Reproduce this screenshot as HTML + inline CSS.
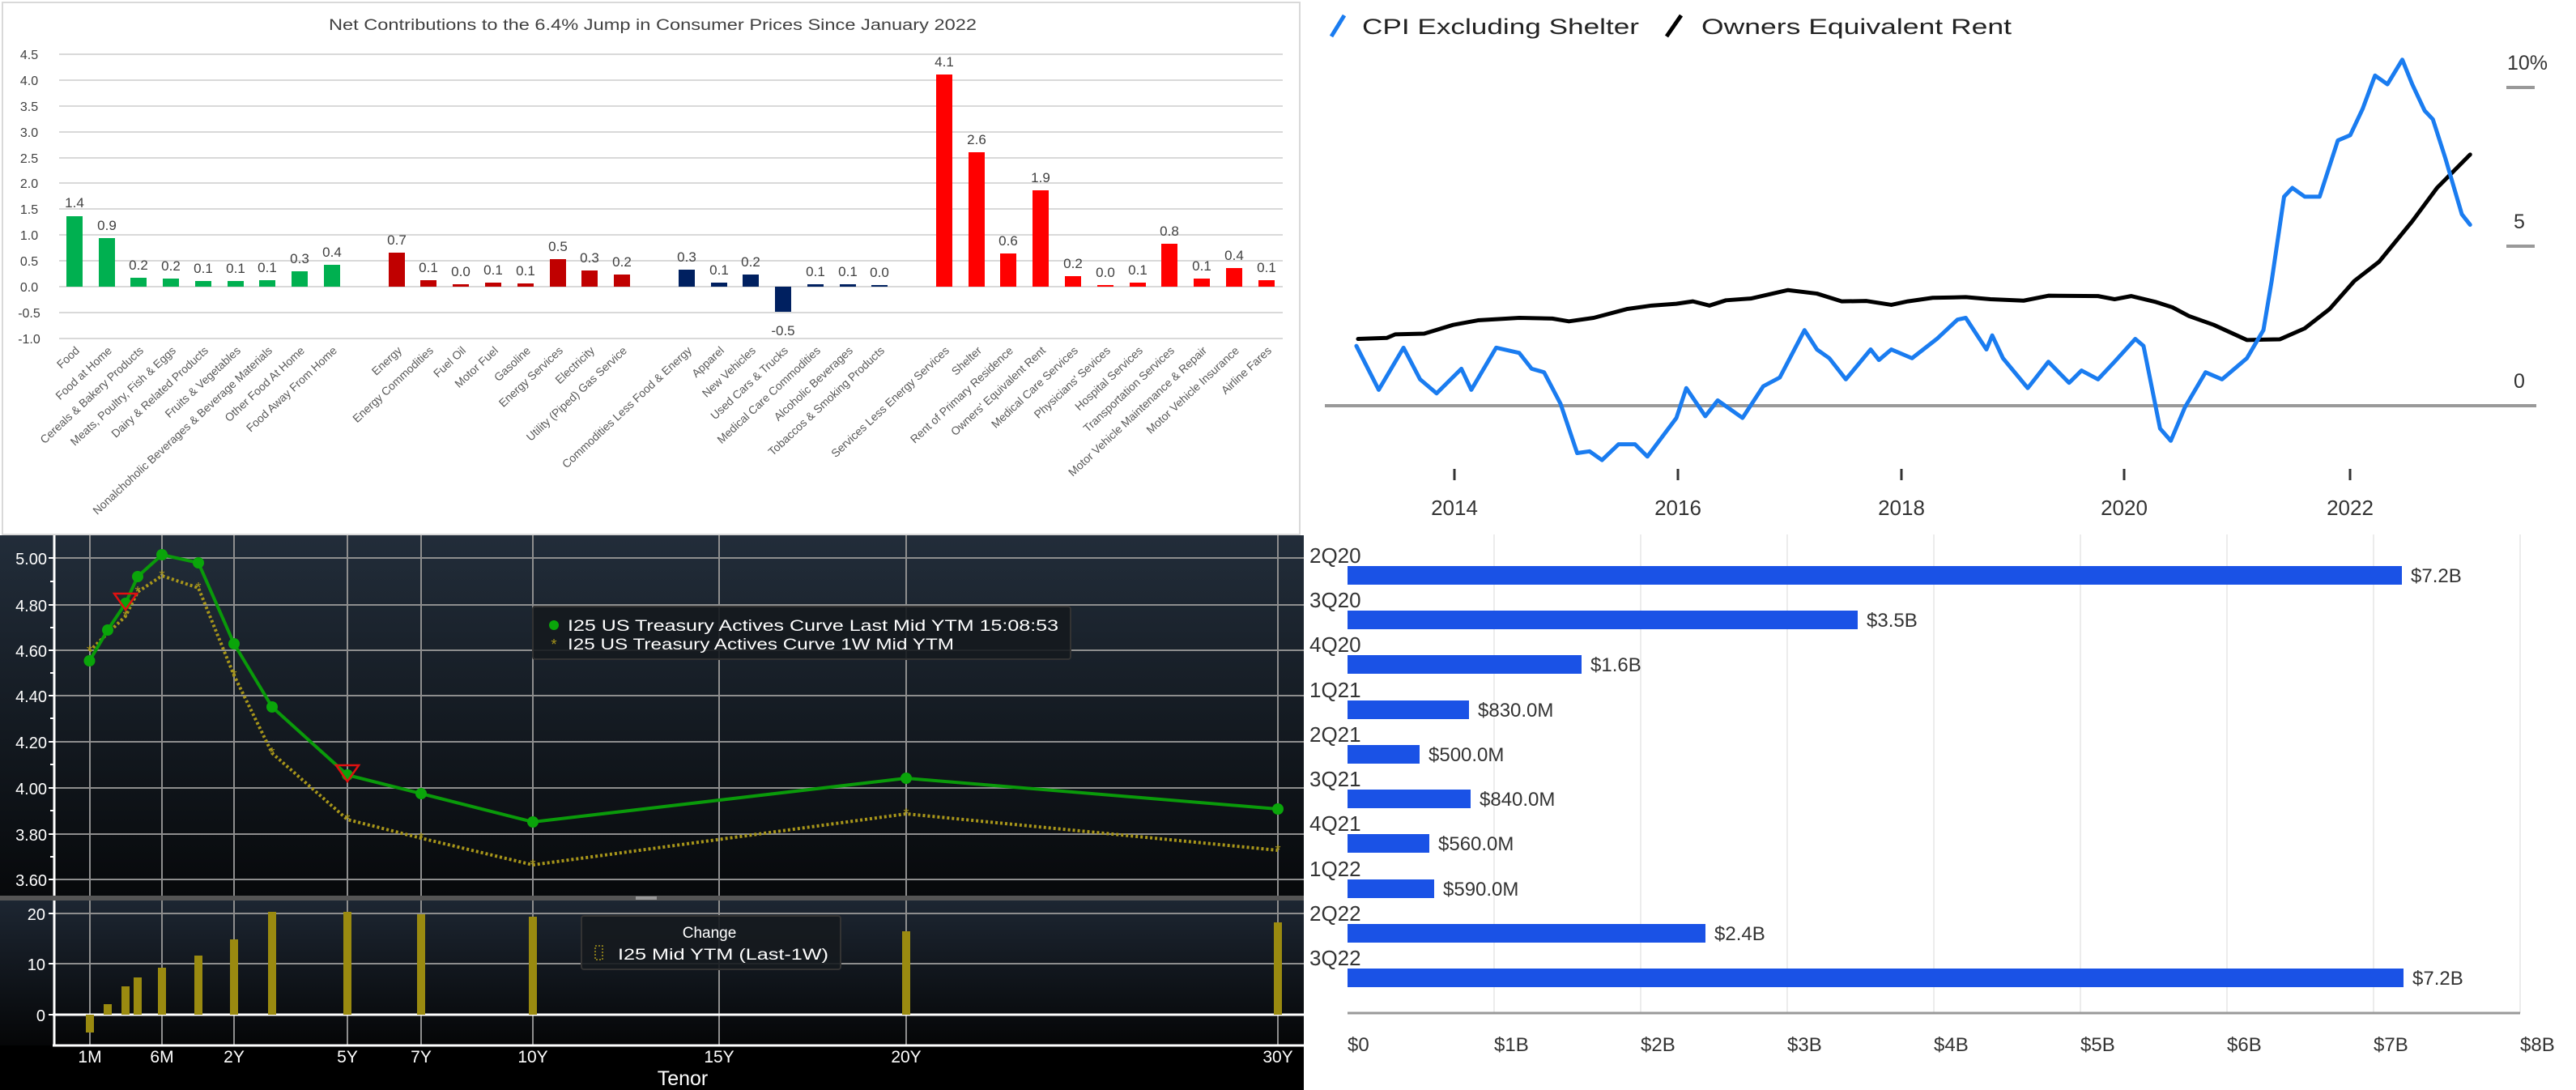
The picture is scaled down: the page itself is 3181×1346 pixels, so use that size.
<!DOCTYPE html>
<html><head><meta charset="utf-8"><style>
html,body{margin:0;padding:0;background:#fff;}
svg{display:block;}
text{font-family:"Liberation Sans",sans-serif;}
</style></head><body>
<svg width="3181" height="1346" viewBox="0 0 3181 1346" xmlns="http://www.w3.org/2000/svg">
<defs>
<linearGradient id="gu" x1="0" y1="0" x2="0" y2="1"><stop offset="0" stop-color="#222d3a"/><stop offset="1" stop-color="#07090b"/></linearGradient>
<linearGradient id="gl" x1="0" y1="0" x2="0" y2="1"><stop offset="0" stop-color="#1d2632"/><stop offset="1" stop-color="#050607"/></linearGradient>
</defs>
<rect width="3181" height="1346" fill="#fff"/>
<!-- ============ TOP LEFT ============ -->
<rect x="3" y="3" width="1602" height="657" fill="#fff" stroke="#d9d9d9" stroke-width="2"/>
<text x="806" y="37" font-size="19" fill="#404040" text-anchor="middle" textLength="800" lengthAdjust="spacingAndGlyphs">Net Contributions to the 6.4% Jump in Consumer Prices Since January 2022</text>
<g stroke="#d9d9d9" stroke-width="2">
<line x1="73" x2="1584" y1="67" y2="67"/><line x1="73" x2="1584" y1="99" y2="99"/><line x1="73" x2="1584" y1="131" y2="131"/><line x1="73" x2="1584" y1="163" y2="163"/><line x1="73" x2="1584" y1="195" y2="195"/><line x1="73" x2="1584" y1="226" y2="226"/><line x1="73" x2="1584" y1="258" y2="258"/><line x1="73" x2="1584" y1="290" y2="290"/><line x1="73" x2="1584" y1="322" y2="322"/><line x1="73" x2="1584" y1="354" y2="354"/><line x1="73" x2="1584" y1="386" y2="386"/><line x1="73" x2="1584" y1="418" y2="418"/>
</g>
<g font-size="16" fill="#404040" text-anchor="middle">
<text x="36" y="73">4.5</text><text x="36" y="105">4.0</text><text x="36" y="137">3.5</text><text x="36" y="169">3.0</text><text x="36" y="201">2.5</text><text x="36" y="232">2.0</text><text x="36" y="264">1.5</text><text x="36" y="296">1.0</text><text x="36" y="328">0.5</text><text x="36" y="360">0.0</text><text x="36" y="392">-0.5</text><text x="36" y="424">-1.0</text>
</g>
<g fill="#00b050">
<rect x="82" y="267" width="20" height="87"/><rect x="122" y="294" width="20" height="60"/><rect x="161" y="343" width="20" height="11"/><rect x="201" y="344" width="20" height="10"/><rect x="241" y="347" width="20" height="7"/><rect x="281" y="347" width="20" height="7"/><rect x="320" y="346" width="20" height="8"/><rect x="360" y="335" width="20" height="19"/><rect x="400" y="327" width="20" height="27"/>
</g>
<g fill="#c00000">
<rect x="480" y="312" width="20" height="42"/><rect x="519" y="346" width="20" height="8"/><rect x="559" y="351" width="20" height="3"/><rect x="599" y="349" width="20" height="5"/><rect x="639" y="350" width="20" height="4"/><rect x="679" y="320" width="20" height="34"/><rect x="718" y="334" width="20" height="20"/><rect x="758" y="339" width="20" height="15"/>
</g>
<g fill="#002060">
<rect x="838" y="333" width="20" height="21"/><rect x="878" y="349" width="20" height="5"/><rect x="917" y="339" width="20" height="15"/><rect x="957" y="354" width="20" height="31"/><rect x="997" y="351" width="20" height="3"/><rect x="1037" y="351" width="20" height="3"/><rect x="1076" y="352" width="20" height="2"/>
</g>
<g fill="#ff0000">
<rect x="1156" y="92" width="20" height="262"/><rect x="1196" y="188" width="20" height="166"/><rect x="1235" y="313" width="20" height="41"/><rect x="1275" y="235" width="20" height="119"/><rect x="1315" y="341" width="20" height="13"/><rect x="1355" y="352" width="20" height="2"/><rect x="1395" y="349" width="20" height="5"/><rect x="1434" y="301" width="20" height="53"/><rect x="1474" y="344" width="20" height="10"/><rect x="1514" y="331" width="20" height="23"/><rect x="1554" y="346" width="20" height="8"/>
</g>
<g font-size="17" fill="#404040" text-anchor="middle">
<text x="92" y="256">1.4</text><text x="132" y="284">0.9</text><text x="171" y="333">0.2</text><text x="211" y="334">0.2</text><text x="251" y="337">0.1</text><text x="291" y="337">0.1</text><text x="330" y="336">0.1</text><text x="370" y="325">0.3</text><text x="410" y="317">0.4</text>
<text x="490" y="302">0.7</text><text x="529" y="336">0.1</text><text x="569" y="341">0.0</text><text x="609" y="339">0.1</text><text x="649" y="340">0.1</text><text x="689" y="310">0.5</text><text x="728" y="324">0.3</text><text x="768" y="329">0.2</text>
<text x="848" y="323">0.3</text><text x="888" y="339">0.1</text><text x="927" y="329">0.2</text><text x="967" y="414">-0.5</text><text x="1007" y="341">0.1</text><text x="1047" y="341">0.1</text><text x="1086" y="342">0.0</text>
<text x="1166" y="82">4.1</text><text x="1206" y="178">2.6</text><text x="1245" y="303">0.6</text><text x="1285" y="225">1.9</text><text x="1325" y="331">0.2</text><text x="1365" y="342">0.0</text><text x="1405" y="339">0.1</text><text x="1444" y="291">0.8</text><text x="1484" y="334">0.1</text><text x="1524" y="321">0.4</text><text x="1564" y="336">0.1</text>
</g>
<g font-size="14" fill="#595959" text-anchor="end">
<text transform="translate(99,434) rotate(-43)">Food</text>
<text transform="translate(139,434) rotate(-43)">Food at Home</text>
<text transform="translate(178,434) rotate(-43)">Cereals &amp; Bakery Products</text>
<text transform="translate(218,434) rotate(-43)">Meats, Poultry, Fish &amp; Eggs</text>
<text transform="translate(258,434) rotate(-43)">Dairy &amp; Related Products</text>
<text transform="translate(298,434) rotate(-43)">Fruits &amp; Vegetables</text>
<text transform="translate(337,434) rotate(-43)">Nonalchoholic Beverages &amp; Beverage Materials</text>
<text transform="translate(377,434) rotate(-43)">Other Food At Home</text>
<text transform="translate(417,434) rotate(-43)">Food Away From Home</text>
<text transform="translate(497,434) rotate(-43)">Energy</text>
<text transform="translate(536,434) rotate(-43)">Energy Commodities</text>
<text transform="translate(576,434) rotate(-43)">Fuel Oil</text>
<text transform="translate(616,434) rotate(-43)">Motor Fuel</text>
<text transform="translate(656,434) rotate(-43)">Gasoline</text>
<text transform="translate(696,434) rotate(-43)">Energy Services</text>
<text transform="translate(735,434) rotate(-43)">Electricity</text>
<text transform="translate(775,434) rotate(-43)">Utility (Piped) Gas Service</text>
<text transform="translate(855,434) rotate(-43)">Commodities Less Food &amp; Energy</text>
<text transform="translate(895,434) rotate(-43)">Apparel</text>
<text transform="translate(934,434) rotate(-43)">New Vehicles</text>
<text transform="translate(974,434) rotate(-43)">Used Cars &amp; Trucks</text>
<text transform="translate(1014,434) rotate(-43)">Medical Care Commodities</text>
<text transform="translate(1054,434) rotate(-43)">Alcoholic Beverages</text>
<text transform="translate(1093,434) rotate(-43)">Tobaccos &amp; Smoking Products</text>
<text transform="translate(1173,434) rotate(-43)">Services Less Energy Services</text>
<text transform="translate(1213,434) rotate(-43)">Shelter</text>
<text transform="translate(1252,434) rotate(-43)">Rent of Primary Residence</text>
<text transform="translate(1292,434) rotate(-43)">Owners' Equivalent Rent</text>
<text transform="translate(1332,434) rotate(-43)">Medical Care Services</text>
<text transform="translate(1372,434) rotate(-43)">Physicians' Sevices</text>
<text transform="translate(1412,434) rotate(-43)">Hospital Services</text>
<text transform="translate(1451,434) rotate(-43)">Transportation Services</text>
<text transform="translate(1491,434) rotate(-43)">Motor Vehicle Maintenance &amp; Repair</text>
<text transform="translate(1531,434) rotate(-43)">Motor Vehicle Insurance</text>
<text transform="translate(1571,434) rotate(-43)">Airline Fares</text>
</g>
<!-- ============ TOP RIGHT ============ -->
<line x1="1644" y1="45" x2="1660" y2="19" stroke="#1a7cf0" stroke-width="5"/>
<text x="1682" y="42" font-size="27" fill="#222" textLength="342" lengthAdjust="spacingAndGlyphs">CPI Excluding Shelter</text>
<line x1="2058" y1="45" x2="2076" y2="19" stroke="#000" stroke-width="5"/>
<text x="2101" y="42" font-size="27" fill="#222" textLength="383" lengthAdjust="spacingAndGlyphs">Owners Equivalent Rent</text>
<text x="3096" y="86" font-size="25" fill="#333">10%</text>
<text x="3104" y="282" font-size="25" fill="#333">5</text>
<text x="3104" y="479" font-size="25" fill="#333">0</text>
<g stroke="#999" stroke-width="4"><line x1="3095" x2="3130" y1="108" y2="108"/><line x1="3095" x2="3130" y1="304" y2="304"/></g>
<line x1="1636" x2="3132" y1="501" y2="501" stroke="#999" stroke-width="4"/>
<g stroke="#333" stroke-width="3"><line x1="1796" x2="1796" y1="579" y2="593"/><line x1="2072" x2="2072" y1="579" y2="593"/><line x1="2348" x2="2348" y1="579" y2="593"/><line x1="2623" x2="2623" y1="579" y2="593"/><line x1="2902" x2="2902" y1="579" y2="593"/></g>
<g font-size="26" fill="#333" text-anchor="middle"><text x="1796" y="636">2014</text><text x="2072" y="636">2016</text><text x="2348" y="636">2018</text><text x="2623" y="636">2020</text><text x="2902" y="636">2022</text></g>
<g transform="translate(1580,0) scale(1.021,0.4337)" fill="none" stroke-linejoin="round" stroke-linecap="round">
<polyline vector-effect="non-scaling-stroke" stroke="#000" stroke-width="5" points="95,965 130,962 140,952 175,950 210,925 240,912 290,905 330,907 350,915 380,905 420,880 450,870 480,865 500,858 520,870 540,855 570,850 615,826 650,836 680,858 710,857 740,868 760,858 790,848 830,846 860,852 900,856 930,842 990,843 1010,852 1030,843 1060,860 1080,875 1100,900 1130,925 1170,968 1210,966 1240,935 1270,880 1300,800 1330,745 1370,630 1400,535 1440,440"/>
<polyline vector-effect="non-scaling-stroke" stroke="#1a7cf0" stroke-width="5" points="93,985 120,1110 150,990 170,1080 190,1120 220,1050 232,1110 262,990 290,1005 305,1050 320,1060 340,1150 360,1290 375,1285 390,1310 410,1265 430,1265 445,1300 480,1190 492,1105 515,1185 530,1140 560,1190 585,1100 605,1075 635,940 650,995 665,1020 685,1080 715,995 725,1025 740,995 765,1020 795,965 820,910 830,905 855,995 862,955 875,1020 905,1105 930,1030 955,1090 970,1055 990,1080 1010,1030 1035,965 1045,985 1065,1220 1078,1255 1095,1160 1120,1060 1140,1080 1160,1040 1170,1020 1190,940 1200,800 1215,560 1225,535 1240,560 1258,560 1280,400 1295,385 1310,310 1325,215 1340,240 1358,170 1370,240 1385,315 1395,340 1410,450 1430,610 1440,640"/>
</g>
<!-- ============ BOTTOM LEFT ============ -->
<rect x="0" y="661" width="1610" height="685" fill="#000"/>
<rect x="0" y="661" width="1610" height="445" fill="url(#gu)"/>
<rect x="0" y="1106" width="1610" height="6" fill="#555"/>
<rect x="785" y="1107" width="26" height="4" fill="#999"/>
<rect x="0" y="1112" width="1610" height="179" fill="url(#gl)"/>
<g stroke="#8e8e8e" stroke-width="2">
<line x1="65" x2="1610" y1="689" y2="689"/><line x1="65" x2="1610" y1="747" y2="747"/><line x1="65" x2="1610" y1="803" y2="803"/><line x1="65" x2="1610" y1="859" y2="859"/><line x1="65" x2="1610" y1="916" y2="916"/><line x1="65" x2="1610" y1="973" y2="973"/><line x1="65" x2="1610" y1="1030" y2="1030"/><line x1="65" x2="1610" y1="1086" y2="1086"/>
<line x1="65" x2="1610" y1="1128" y2="1128"/><line x1="65" x2="1610" y1="1190" y2="1190"/>
</g>
<g stroke="#8e8e8e" stroke-width="2">
<line x1="111" x2="111" y1="661" y2="1106"/><line x1="200" x2="200" y1="661" y2="1106"/><line x1="289" x2="289" y1="661" y2="1106"/><line x1="429" x2="429" y1="661" y2="1106"/><line x1="520" x2="520" y1="661" y2="1106"/><line x1="658" x2="658" y1="661" y2="1106"/><line x1="888" x2="888" y1="661" y2="1106"/><line x1="1119" x2="1119" y1="661" y2="1106"/><line x1="1578" x2="1578" y1="661" y2="1106"/>
<line x1="111" x2="111" y1="1112" y2="1291"/><line x1="200" x2="200" y1="1112" y2="1291"/><line x1="289" x2="289" y1="1112" y2="1291"/><line x1="429" x2="429" y1="1112" y2="1291"/><line x1="520" x2="520" y1="1112" y2="1291"/><line x1="658" x2="658" y1="1112" y2="1291"/><line x1="888" x2="888" y1="1112" y2="1291"/><line x1="1119" x2="1119" y1="1112" y2="1291"/><line x1="1578" x2="1578" y1="1112" y2="1291"/>
</g>
<line x1="67" x2="67" y1="661" y2="1106" stroke="#fff" stroke-width="3"/>
<line x1="67" x2="67" y1="1112" y2="1291" stroke="#fff" stroke-width="3"/>
<line x1="65" x2="1610" y1="1253" y2="1253" stroke="#fff" stroke-width="3"/>
<line x1="65" x2="1610" y1="1291" y2="1291" stroke="#fff" stroke-width="3"/>
<g stroke="#fff" stroke-width="2">
<line x1="60" x2="67" y1="689" y2="689"/><line x1="60" x2="67" y1="747" y2="747"/><line x1="60" x2="67" y1="803" y2="803"/><line x1="60" x2="67" y1="859" y2="859"/><line x1="60" x2="67" y1="916" y2="916"/><line x1="60" x2="67" y1="973" y2="973"/><line x1="60" x2="67" y1="1030" y2="1030"/><line x1="60" x2="67" y1="1086" y2="1086"/>
<line x1="62" x2="67" y1="718" y2="718"/><line x1="62" x2="67" y1="775" y2="775"/><line x1="62" x2="67" y1="831" y2="831"/><line x1="62" x2="67" y1="887" y2="887"/><line x1="62" x2="67" y1="944" y2="944"/><line x1="62" x2="67" y1="1001" y2="1001"/><line x1="62" x2="67" y1="1058" y2="1058"/>
<line x1="60" x2="67" y1="1128" y2="1128"/><line x1="60" x2="67" y1="1190" y2="1190"/><line x1="60" x2="67" y1="1253" y2="1253"/>
</g>
<g font-size="20" fill="#fff" text-anchor="end">
<text x="58" y="697">5.00</text><text x="58" y="755">4.80</text><text x="58" y="811">4.60</text><text x="58" y="867">4.40</text><text x="58" y="924">4.20</text><text x="58" y="981">4.00</text><text x="58" y="1038">3.80</text><text x="58" y="1094">3.60</text>
<text x="56" y="1136">20</text><text x="56" y="1198">10</text><text x="56" y="1261">0</text>
</g>
<g fill="#9a8a10">
<rect x="106" y="1253" width="10" height="22"/><rect x="128" y="1240" width="10" height="13"/><rect x="150" y="1218" width="10" height="35"/><rect x="165" y="1207" width="10" height="46"/><rect x="195" y="1195" width="10" height="58"/><rect x="240" y="1180" width="10" height="73"/><rect x="284" y="1160" width="10" height="93"/><rect x="331" y="1126" width="10" height="127"/><rect x="424" y="1126" width="10" height="127"/><rect x="515" y="1129" width="10" height="124"/><rect x="653" y="1132" width="10" height="121"/><rect x="1114" y="1150" width="10" height="103"/><rect x="1573" y="1139" width="10" height="114"/>
</g>
<polyline fill="none" stroke="#a8961a" stroke-width="4" stroke-dasharray="3,3" points="110.5,804 133,782 155,761 170,731 200,711 245,726 289,834 336,930 429,1012 520,1035 658,1068 1119,1005 1578,1050"/>
<g fill="#a8961a" font-size="18" text-anchor="middle">
<text x="110.5" y="810">*</text><text x="133" y="788">*</text><text x="155" y="767">*</text><text x="170" y="737">*</text><text x="200" y="717">*</text><text x="245" y="732">*</text><text x="289" y="840">*</text><text x="336" y="936">*</text><text x="429" y="1018">*</text><text x="520" y="1041">*</text><text x="658" y="1074">*</text><text x="1119" y="1011">*</text><text x="1578" y="1056">*</text>
</g>
<polyline fill="none" stroke="#0a9a0a" stroke-width="4" points="110.5,816 133,778 155,745 170,712 200,685 245,695 289,795 336,873 429,957 520,980 658,1015 1119,961 1578,999"/>
<g fill="#0aa50a">
<circle cx="110.5" cy="816" r="7"/><circle cx="133" cy="778" r="7"/><circle cx="155" cy="745" r="7"/><circle cx="170" cy="712" r="7"/><circle cx="200" cy="685" r="7"/><circle cx="245" cy="695" r="7"/><circle cx="289" cy="795" r="7"/><circle cx="336" cy="873" r="7"/><circle cx="429" cy="957" r="7"/><circle cx="520" cy="980" r="7"/><circle cx="658" cy="1015" r="7"/><circle cx="1119" cy="961" r="7"/><circle cx="1578" cy="999" r="7"/>
</g>
<g fill="none" stroke="#e01010" stroke-width="2.5"><polygon points="141,733 169,733 155,753"/><polygon points="415,945 443,945 429,965"/></g>
<rect x="658" y="749" width="664" height="65" rx="3" fill="#15191e" fill-opacity="0.9" stroke="#333" stroke-width="2"/>
<circle cx="684" cy="772" r="6" fill="#0aa50a"/>
<text x="684" y="802" font-size="18" fill="#a8961a" text-anchor="middle">*</text>
<g font-size="19" fill="#fff"><text x="701" y="779" textLength="606" lengthAdjust="spacingAndGlyphs">I25 US Treasury Actives Curve Last Mid YTM 15:08:53</text><text x="701" y="802" textLength="477" lengthAdjust="spacingAndGlyphs">I25 US Treasury Actives Curve 1W Mid YTM</text></g>
<rect x="718" y="1131" width="320" height="66" rx="3" fill="#15191e" fill-opacity="0.9" stroke="#333" stroke-width="2"/>
<text x="876" y="1158" font-size="19" fill="#fff" text-anchor="middle">Change</text>
<rect x="735" y="1168" width="9" height="17" fill="none" stroke="#a8961a" stroke-width="1.5" stroke-dasharray="2,2"/>
<text x="763" y="1185" font-size="19" fill="#fff" textLength="260" lengthAdjust="spacingAndGlyphs">I25 Mid YTM (Last-1W)</text>
<g font-size="21" fill="#fff" text-anchor="middle">
<text x="111" y="1312">1M</text><text x="200" y="1312">6M</text><text x="289" y="1312">2Y</text><text x="429" y="1312">5Y</text><text x="520" y="1312">7Y</text><text x="658" y="1312">10Y</text><text x="888" y="1312">15Y</text><text x="1119" y="1312">20Y</text><text x="1578" y="1312">30Y</text>
</g>
<text x="843" y="1340" font-size="25" fill="#fff" text-anchor="middle">Tenor</text>
<!-- ============ BOTTOM RIGHT ============ -->
<rect x="1610" y="660" width="1571" height="686" fill="#fff"/>
<g stroke="#ececec" stroke-width="2">
<line x1="1845" x2="1845" y1="660" y2="1251"/><line x1="2026" x2="2026" y1="660" y2="1251"/><line x1="2207" x2="2207" y1="660" y2="1251"/><line x1="2388" x2="2388" y1="660" y2="1251"/><line x1="2569" x2="2569" y1="660" y2="1251"/><line x1="2750" x2="2750" y1="660" y2="1251"/><line x1="2931" x2="2931" y1="660" y2="1251"/><line x1="3112" x2="3112" y1="660" y2="1251"/>
</g>
<line x1="1664" x2="3112" y1="1251" y2="1251" stroke="#999" stroke-width="3"/>
<g fill="#1a52e6">
<rect x="1664" y="699" width="1302" height="23"/><rect x="1664" y="754" width="630" height="23"/><rect x="1664" y="809" width="289" height="23"/><rect x="1664" y="865" width="150" height="23"/><rect x="1664" y="920" width="89" height="23"/><rect x="1664" y="975" width="152" height="23"/><rect x="1664" y="1030" width="101" height="23"/><rect x="1664" y="1086" width="107" height="23"/><rect x="1664" y="1141" width="442" height="23"/><rect x="1664" y="1196" width="1304" height="23"/>
</g>
<g font-size="26" fill="#333">
<text x="1617" y="695">2Q20</text><text x="1617" y="750">3Q20</text><text x="1617" y="805">4Q20</text><text x="1617" y="861">1Q21</text><text x="1617" y="916">2Q21</text><text x="1617" y="971">3Q21</text><text x="1617" y="1026">4Q21</text><text x="1617" y="1082">1Q22</text><text x="1617" y="1137">2Q22</text><text x="1617" y="1192">3Q22</text>
</g>
<g font-size="24" fill="#333">
<text x="2977" y="719">$7.2B</text><text x="2305" y="774">$3.5B</text><text x="1964" y="829">$1.6B</text><text x="1825" y="885">$830.0M</text><text x="1764" y="940">$500.0M</text><text x="1827" y="995">$840.0M</text><text x="1776" y="1050">$560.0M</text><text x="1782" y="1106">$590.0M</text><text x="2117" y="1161">$2.4B</text><text x="2979" y="1216">$7.2B</text>
</g>
<g font-size="24" fill="#333">
<text x="1664" y="1298">$0</text><text x="1845" y="1298">$1B</text><text x="2026" y="1298">$2B</text><text x="2207" y="1298">$3B</text><text x="2388" y="1298">$4B</text><text x="2569" y="1298">$5B</text><text x="2750" y="1298">$6B</text><text x="2931" y="1298">$7B</text><text x="3112" y="1298">$8B</text>
</g>
</svg>
</body></html>
